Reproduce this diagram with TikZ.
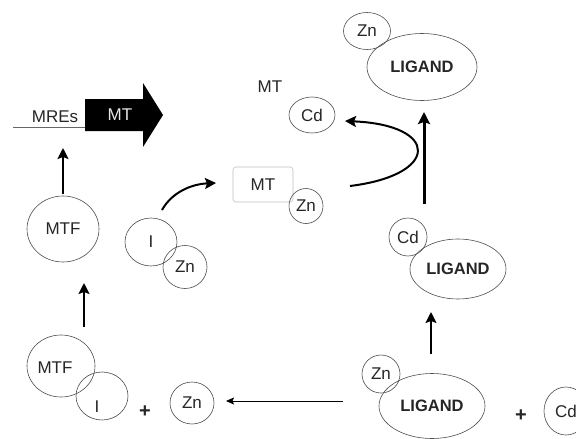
\documentclass[tikz,border=0pt]{standalone}
\usepackage{fontspec}
\setmainfont{Liberation Sans}
\usetikzlibrary{shapes.geometric,arrows.meta}
\begin{document}
\begin{tikzpicture}[x=1pt,y=-1pt,
  every node/.style={font=\fontsize{17}{20}\selectfont, text=black!85},
  ell/.style={ellipse, draw=black!70, line width=0.6pt, inner sep=0pt},
  bold/.style={font=\fontsize{16.5}{20}\selectfont\bfseries},
  plus/.style={font=\fontsize{20}{22}\selectfont\bfseries},
  arr/.style={line width=2pt, -{Stealth[length=11pt,width=11pt,inset=2pt]}},
  thinarr/.style={line width=1pt, -{Stealth[length=8pt,width=7pt,inset=1.5pt]}},
  thickarr/.style={line width=3pt, -{Stealth[length=12pt,width=12pt,inset=2pt]}}]
\useasboundingbox (0,0) rectangle (576,439);
\clip (0,0) rectangle (576,439);

% promoter and gene arrow
\coordinate (mreL) at (13,127);
\coordinate (mreR) at (85,127);
\draw[black!60, line width=1pt] (mreL) -- (mreR);
\node (mres) at (55,117) {MREs};
\fill[black] (85,99) -- (143,99) -- (143,83) -- (163,115) -- (143,147) -- (143,131) -- (85,131) -- cycle;
\node[text=white!90!black] (mtgene) at (120,115) {MT};

% left column
\node[ell, minimum width=72pt, minimum height=66pt] (mtf1) at (63,229) {MTF};
\node[ell, minimum width=68pt, minimum height=62pt] (mtf2) at (61,366) {};
\node (mtf2t) at (55,368) {MTF};
\node[ell, minimum width=52pt, minimum height=48pt] (i2) at (102,396) {};
\node (i2t) at (97,407) {I};
\node[plus] (plus1) at (145,412) {+};
\node[ell, minimum width=44pt, minimum height=42pt] (zn1) at (192,403) {Zn};

\node[ell, minimum width=52pt, minimum height=48pt] (i1) at (151,242) {I};
\node[ell, minimum width=44pt, minimum height=43pt] (zn2) at (185,267) {Zn};

% MT-Zn complex
\node[draw=black!25, line width=0.6pt, rounded corners=3pt, minimum width=60pt, minimum height=35pt] (mtbox) at (263,184.5) {MT};
\node[ell, minimum width=34pt, minimum height=35pt] (zn3) at (306,206) {Zn};

% MT-Cd
\node (mtlab) at (270,87) {MT};
\node[ell, minimum width=46pt, minimum height=36pt] (cd1) at (312,115) {Cd};

% ligands
\node[ell, minimum width=47pt, minimum height=37pt] (zn4) at (367,31) {Zn};
\node[ell, bold, minimum width=110pt, minimum height=67pt] (lig1) at (422,67) {LIGAND};
\node[ell, minimum width=38pt, minimum height=38pt] (cd2) at (408,237) {Cd};
\node[ell, bold, minimum width=96pt, minimum height=60pt] (lig2) at (458,269) {LIGAND};
\node[ell, minimum width=38pt, minimum height=38pt] (zn5) at (381,374) {Zn};
\node[ell, bold, minimum width=106pt, minimum height=65pt] (lig3) at (432,406) {LIGAND};
\node[plus] (plus2) at (521,416) {+};
\node[ell, minimum width=44pt, minimum height=48pt] (cd3) at (566,411) {Cd};

% arrows
\coordinate (a1s) at (63,194); \coordinate (a1e) at (63,148);
\draw[arr] (a1s) -- (a1e);
\coordinate (a2s) at (84,327); \coordinate (a2e) at (84,283);
\draw[arr] (a2s) -- (a2e);
\coordinate (a3s) at (162,210); \coordinate (a3e) at (216,183);
\draw[arr] (a3s) .. controls (172,192) and (192,184) .. (a3e);
\coordinate (a4s) at (343,401); \coordinate (a4e) at (226,401);
\draw[thinarr] (a4s) -- (a4e);
\coordinate (a5s) at (431,354); \coordinate (a5e) at (431,312);
\draw[arr] (a5s) -- (a5e);
\coordinate (a6s) at (424,204); \coordinate (a6e) at (424,112);
\draw[thickarr] (a6s) -- (a6e);
\coordinate (a7s) at (350,186); \coordinate (a7e) at (345,121);
\draw[arr] (a7s) .. controls (440,175) and (440,125) .. (a7e);
\end{tikzpicture}
\end{document}
